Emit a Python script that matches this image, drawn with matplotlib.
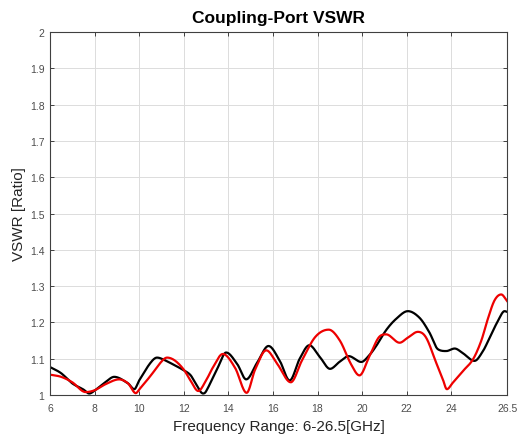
import numpy as np
import matplotlib
matplotlib.use('Agg')
from matplotlib import pyplot as plt

plt.rcParams['font.family'] = ['Liberation Sans', 'DejaVu Sans']

# black trace
black_f = [6.0, 6.5, 7.0, 7.5, 7.76, 8.0, 8.5, 8.88, 9.5, 9.78, 10.0, 10.5, 10.8,
           11.0, 11.5, 12.0, 12.3, 12.5, 12.87, 13.0, 13.5, 13.9, 14.4, 14.8, 15.3,
           15.8, 16.3, 16.75, 17.2, 17.63, 18.1, 18.56, 19.0, 19.4, 19.96, 20.3,
           20.63, 21.08, 21.53, 22.05, 22.57, 23.02, 23.4, 23.77, 24.15, 24.52,
           25.04, 25.42, 25.72, 26.09, 26.39, 26.5]
black_v = [1.077, 1.060, 1.032, 1.015, 1.004, 1.012, 1.036, 1.050, 1.032, 1.016,
           1.040, 1.088, 1.103, 1.100, 1.085, 1.068, 1.055, 1.035, 1.004, 1.010,
           1.072, 1.117, 1.085, 1.043, 1.090, 1.135, 1.095, 1.040, 1.100, 1.137,
           1.105, 1.072, 1.092, 1.107, 1.091, 1.108, 1.135, 1.179, 1.210, 1.231,
           1.213, 1.172, 1.126, 1.121, 1.128, 1.115, 1.094, 1.121, 1.158, 1.204,
           1.231, 1.229]

# red trace
red_f = [6.0, 6.5, 7.0, 7.6, 8.0, 8.5, 9.1, 9.5, 9.85, 10.0, 10.5, 11.0, 11.25,
         11.6, 12.0, 12.3, 12.65, 13.0, 13.3, 13.75, 14.3, 14.82, 15.2, 15.7,
         16.2, 16.8, 17.3, 17.9, 18.5, 19.0, 19.5, 19.88, 20.33, 20.78, 21.08,
         21.68, 22.05, 22.5, 22.87, 23.32, 23.62, 23.8, 24.07, 24.52, 24.97,
         25.34, 25.64, 25.94, 26.24, 26.5]
red_v = [1.056, 1.050, 1.035, 1.008, 1.013, 1.030, 1.043, 1.032, 1.005, 1.015,
         1.052, 1.092, 1.103, 1.095, 1.070, 1.040, 1.011, 1.040, 1.075, 1.113,
         1.075, 1.006, 1.070, 1.123, 1.085, 1.035, 1.095, 1.160, 1.180, 1.150,
         1.085, 1.054, 1.107, 1.161, 1.167, 1.144, 1.158, 1.174, 1.158, 1.089,
         1.043, 1.016, 1.034, 1.066, 1.098, 1.149, 1.210, 1.261, 1.277, 1.259]

x_ticks = [6, 8, 10, 12, 14, 16, 18, 20, 22, 24, 26.5]
y_ticks = [1, 1.1, 1.2, 1.3, 1.4, 1.5, 1.6, 1.7, 1.8, 1.9, 2]


def smooth(f, v):
    # cubic hermite through the read points, flat at turning points
    f = np.asarray(f)
    v = np.asarray(v)
    xs = np.linspace(f[0], f[-1], 1000)
    n = len(f)
    m = np.zeros(n)
    d = np.diff(v) / np.diff(f)
    m[0] = d[0]
    m[-1] = d[-1]
    for i in range(1, n - 1):
        if d[i - 1] * d[i] <= 0:
            m[i] = 0.0
        else:
            m[i] = (v[i + 1] - v[i - 1]) / (f[i + 1] - f[i - 1])
            m[i] = np.clip(m[i], -3 * min(abs(d[i - 1]), abs(d[i])), 3 * min(abs(d[i - 1]), abs(d[i])))
    idx = np.clip(np.searchsorted(f, xs) - 1, 0, n - 2)
    h = f[idx + 1] - f[idx]
    t = (xs - f[idx]) / h
    ys = ((2 * t**3 - 3 * t**2 + 1) * v[idx] + (t**3 - 2 * t**2 + t) * h * m[idx]
          + (-2 * t**3 + 3 * t**2) * v[idx + 1] + (t**3 - t**2) * h * m[idx + 1])
    return xs, ys


fig = plt.figure(figsize=(5.19, 4.35), dpi=100)
ax = fig.add_axes([0.0963, 0.0897, 0.8807, 0.8343])

bx, by = smooth(black_f, black_v)
rx, ry = smooth(red_f, red_v)
ax.plot(bx, by, color='black', lw=1.6)
ax.plot(rx, ry, color='#ee0000', lw=1.6)

ax.set_xlim(6, 26.5)
ax.set_ylim(1, 2)
ax.set_xticks(x_ticks)
ax.set_xticklabels([str(t) for t in x_ticks])
ax.set_yticks(y_ticks)
ax.set_yticklabels(['1', '1.1', '1.2', '1.3', '1.4', '1.5', '1.6', '1.7', '1.8', '1.9', '2'])
ax.grid(True, color='#dcdcdc', lw=0.7)
ax.set_axisbelow(True)
ax.tick_params(direction='in', top=True, right=True, length=3, width=0.7,
               labelsize=7.5, labelcolor='#4d4d4d', color='#404040')
ax.tick_params(axis='x', pad=6)
ax.tick_params(axis='y', pad=4)
for s in ax.spines.values():
    s.set_color('#404040')
    s.set_linewidth(0.8)

ax.set_title('Coupling-Port VSWR', fontsize=12.5, fontweight='bold', pad=7)
ax.set_xlabel('Frequency Range: 6-26.5[GHz]', fontsize=11, color='#262626', labelpad=4)
ax.set_ylabel('VSWR [Ratio]', fontsize=11, color='#262626', labelpad=3)

fig.savefig('out.png', dpi=100)
